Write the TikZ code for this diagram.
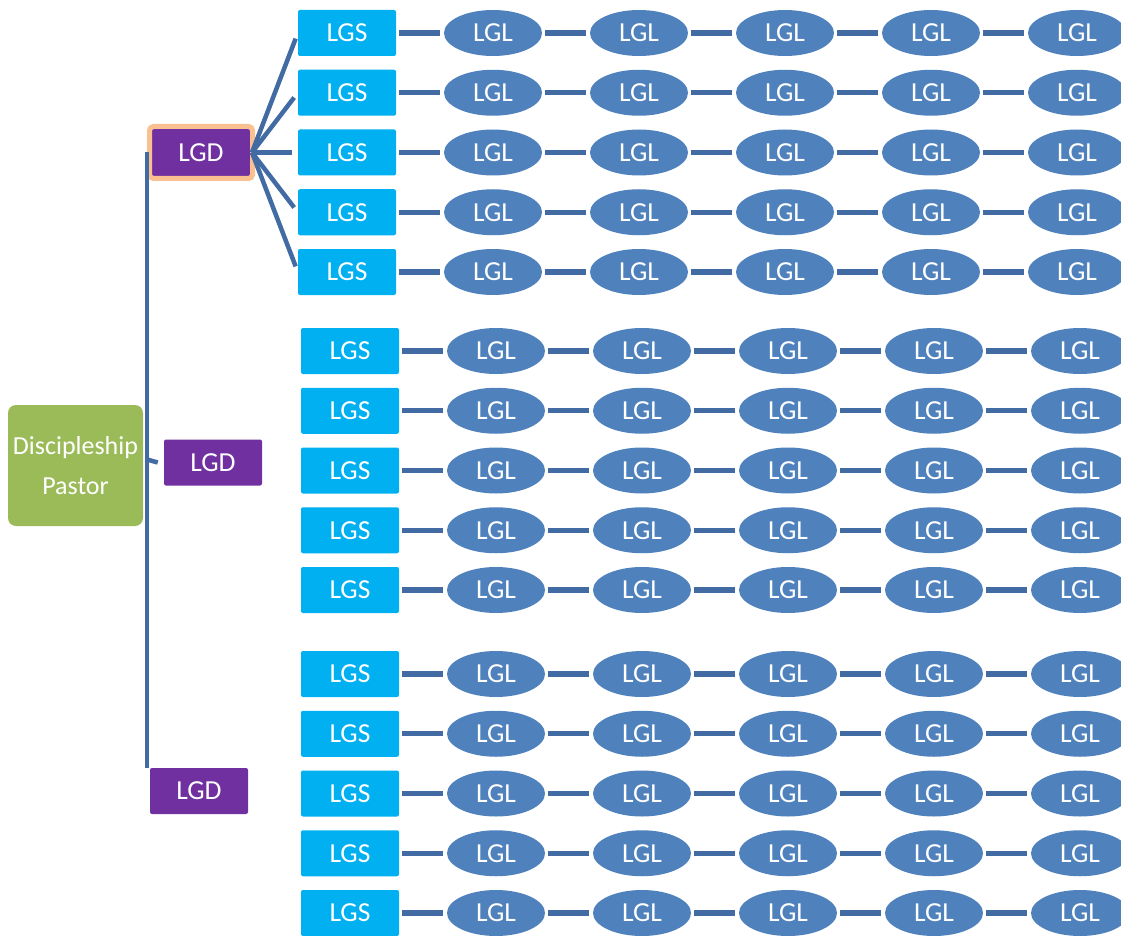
\documentclass[tikz,border=0pt]{standalone}
\usepackage{fontspec}
\setmainfont{Carlito}
\usetikzlibrary{shapes.geometric}
\definecolor{lgsblue}{HTML}{00B0F0}
\definecolor{lgdpurple}{HTML}{7030A0}
\definecolor{lgdorange}{HTML}{FAC090}
\definecolor{pastorgreen}{HTML}{9BBB59}
\definecolor{lglblue}{HTML}{4F81BD}
\definecolor{linec}{RGB}{66,107,163}
\begin{document}
\begin{tikzpicture}[x=1pt,y=-1pt,
  txt/.style={font=\fontsize{26}{40}\selectfont, text=white},
  boxtxt/.style={font=\fontsize{27.5}{40}\selectfont, text=white},
  lgs/.style={boxtxt, fill=lgsblue, minimum width=98pt, minimum height=46pt, inner sep=0pt, rounded corners=2pt},
  lgl/.style={boxtxt, ellipse, fill=lglblue, minimum width=98pt, minimum height=46pt, inner sep=0pt},
  lgd/.style={boxtxt, fill=lgdpurple, minimum width=98pt, minimum height=46pt, inner sep=0pt, rounded corners=2pt},
  conn/.style={draw=linec, line width=5.2pt, shorten >=4pt, shorten <=3pt},
  trunk/.style={draw=linec, line width=4.5pt},
]
\clip (0,0) rectangle (1121,936);
\fill[white] (0,0) rectangle (1121,936);

\node[txt, fill=pastorgreen, rounded corners=8pt, minimum width=135pt, minimum height=121pt, inner sep=0pt, align=center] (pastor) at (75.5,465.5) {Discipleship\\Pastor};

\node[lgd, draw=lgdorange, line width=5pt, minimum width=103pt, minimum height=52pt, rounded corners=4pt] (lgd1) at (201,152.5) {LGD};
\node[lgd] (lgd2) at (213,462.5) {LGD};
\node[lgd] (lgd3) at (199,791) {LGD};

\draw[trunk] (lgd1.west) -- (lgd1.west |- lgd3.north);
\draw[trunk] ([yshift=3pt]lgd1.west |- lgd2.west) -- ([xshift=-6pt]lgd2.west);

\foreach \g/\yy/\xx in {1/33/347,2/351/350,3/674/350} {
  \foreach \r in {0,...,4} {
    \pgfmathsetmacro\yr{\yy+59.75*\r}
    \node[lgs] (s-\g-\r) at (\xx,\yr) {LGS};
    \foreach \c in {1,...,5} {
      \node[lgl] (l-\g-\r-\c) at (\xx+146*\c,\yr) {LGL};
    }
    \draw[conn] (s-\g-\r) -- (l-\g-\r-1);
    \foreach \c [count=\p] in {2,...,5} {
      \draw[conn] (l-\g-\r-\p) -- (l-\g-\r-\c);
    }
  }
}

\foreach \r in {0,...,4} {
  \draw[trunk, shorten >=6pt] ([xshift=-3pt]lgd1.east) -- (s-1-\r.west);
}
\end{tikzpicture}
\end{document}
